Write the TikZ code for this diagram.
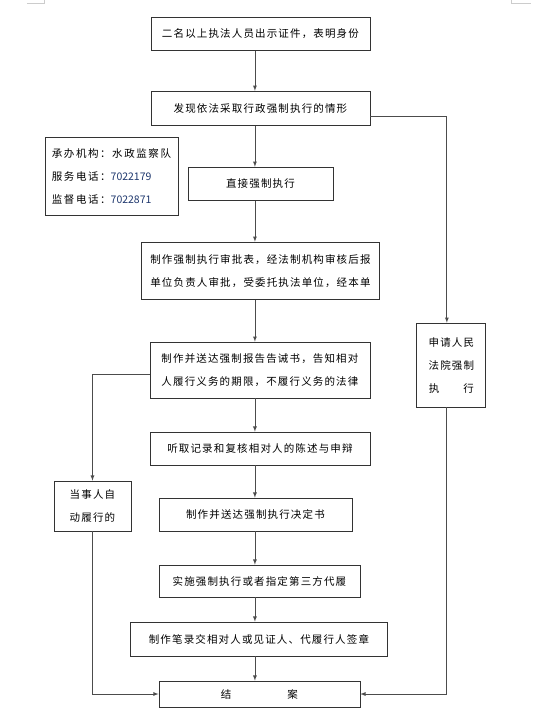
\documentclass[tikz,border=0pt]{standalone}
\usepackage{fontspec}
\usepackage{tikz}
\usetikzlibrary{shapes,arrows,positioning}
\newfontfamily\cjk[LetterSpace=11]{Noto Sans CJK SC}
\newfontfamily\cjkinfo[LetterSpace=15]{Noto Sans CJK SC}
\definecolor{numazul}{RGB}{31,56,110}
\newcommand{\tel}[1]{{\color{numazul}\fontspec{Noto Sans CJK SC}#1}}
\tikzstyle{paso} = [draw=black!80, thick, rectangle, inner sep=0pt, align=center, font=\cjk\fontsize{10.5}{23}\selectfont]
\tikzstyle{aviso} = [paso, align=left, font=\cjkinfo\fontsize{10.5}{23}\selectfont]
\tikzstyle{flecha} = [draw=black!70, thick, -latex]
\tikzstyle{marca} = [draw=black!20, thin]

\begin{document}
\begin{tikzpicture}[x=1pt,y=-1pt]
					\path[fill=white] (0,0) rectangle (554,711);
					\draw[marca] (27,3) -- (44,3) -- (44,0);
					\draw[marca] (511,0) -- (511,3) -- (531,3);
					\coordinate (spine) at (255,0);
					\coordinate (rail) at (447,0);
					\node[paso, minimum width=219pt, minimum height=33pt] (show) at (260.5,33.5) {二名以上执法人员出示证件，表明身份};
					\node[paso, minimum width=219pt, minimum height=34pt] (find) at (260.5,108) {发现依法采取行政强制执行的情形};
					\node[aviso, minimum width=133pt, minimum height=78pt] (info) at (111.5,176) {承办机构：水政监察队\\服务电话：\tel{7022179}\\监督电话：\tel{7022871}};
					\node[paso, minimum width=145pt, minimum height=33pt] (direct) at (260.5,183.5) {直接强制执行};
					\node[paso, minimum width=239pt, minimum height=57pt] (approve) at (260.5,270.5) {制作强制执行审批表，经法制机构审核后报\\单位负责人审批，受委托执法单位，经本单};
					\node[paso, minimum width=220pt, minimum height=56pt] (notice) at (260,370) {制作并送达强制报告告诫书，告知相对\\人履行义务的期限，不履行义务的法律};
					\node[paso, minimum width=220pt, minimum height=33pt] (hear) at (260,448.5) {听取记录和复核相对人的陈述与申辩};
					\node[paso, minimum width=193pt, minimum height=33pt] (decide) at (255.5,514.5) {制作并送达强制执行决定书};
					\node[paso, minimum width=201pt, minimum height=32pt] (implement) at (259.5,581) {实施强制执行或者指定第三方代履};
					\node[paso, minimum width=258pt, minimum height=34pt] (record) at (259,639) {制作笔录交相对人或见证人、代履行人签章};
					\node[paso, minimum width=201pt, minimum height=26pt] (close) at (259.5,694) {结\hspace{56pt}案};
					\node[paso, minimum width=77pt, minimum height=50pt] (self) at (92.5,506) {当事人自\\动履行的};
					\node[paso, minimum width=69pt, minimum height=84pt] (court) at (451.5,365) {申请人民\\法院强制\\执\hspace{24pt}行};
					\draw[flecha] (show.south -| spine) -- (find.north -| spine);
					\draw[flecha] (find.south -| spine) -- (direct.north -| spine);
					\draw[flecha] (direct.south -| spine) -- (approve.north -| spine);
					\draw[flecha] (approve.south -| spine) -- (notice.north -| spine);
					\draw[flecha] (notice.south -| spine) -- (hear.north -| spine);
					\draw[flecha] (hear.south -| spine) -- (decide.north -| spine);
					\draw[flecha] (decide.south -| spine) -- (implement.north -| spine);
					\draw[flecha] (implement.south -| spine) -- (record.north -| spine);
					\draw[flecha] (record.south -| spine) -- (close.north -| spine);
					\draw[flecha] ([yshift=-8pt]find.east) -| (court.north -| rail);
					\draw[flecha] (court.south -| rail) |- (close.east);
					\draw[flecha] ([yshift=-4pt]notice.west) -| (self.north);
					\draw[flecha] (self.south) |- (close.west);
					\end{tikzpicture}
\end{document}
